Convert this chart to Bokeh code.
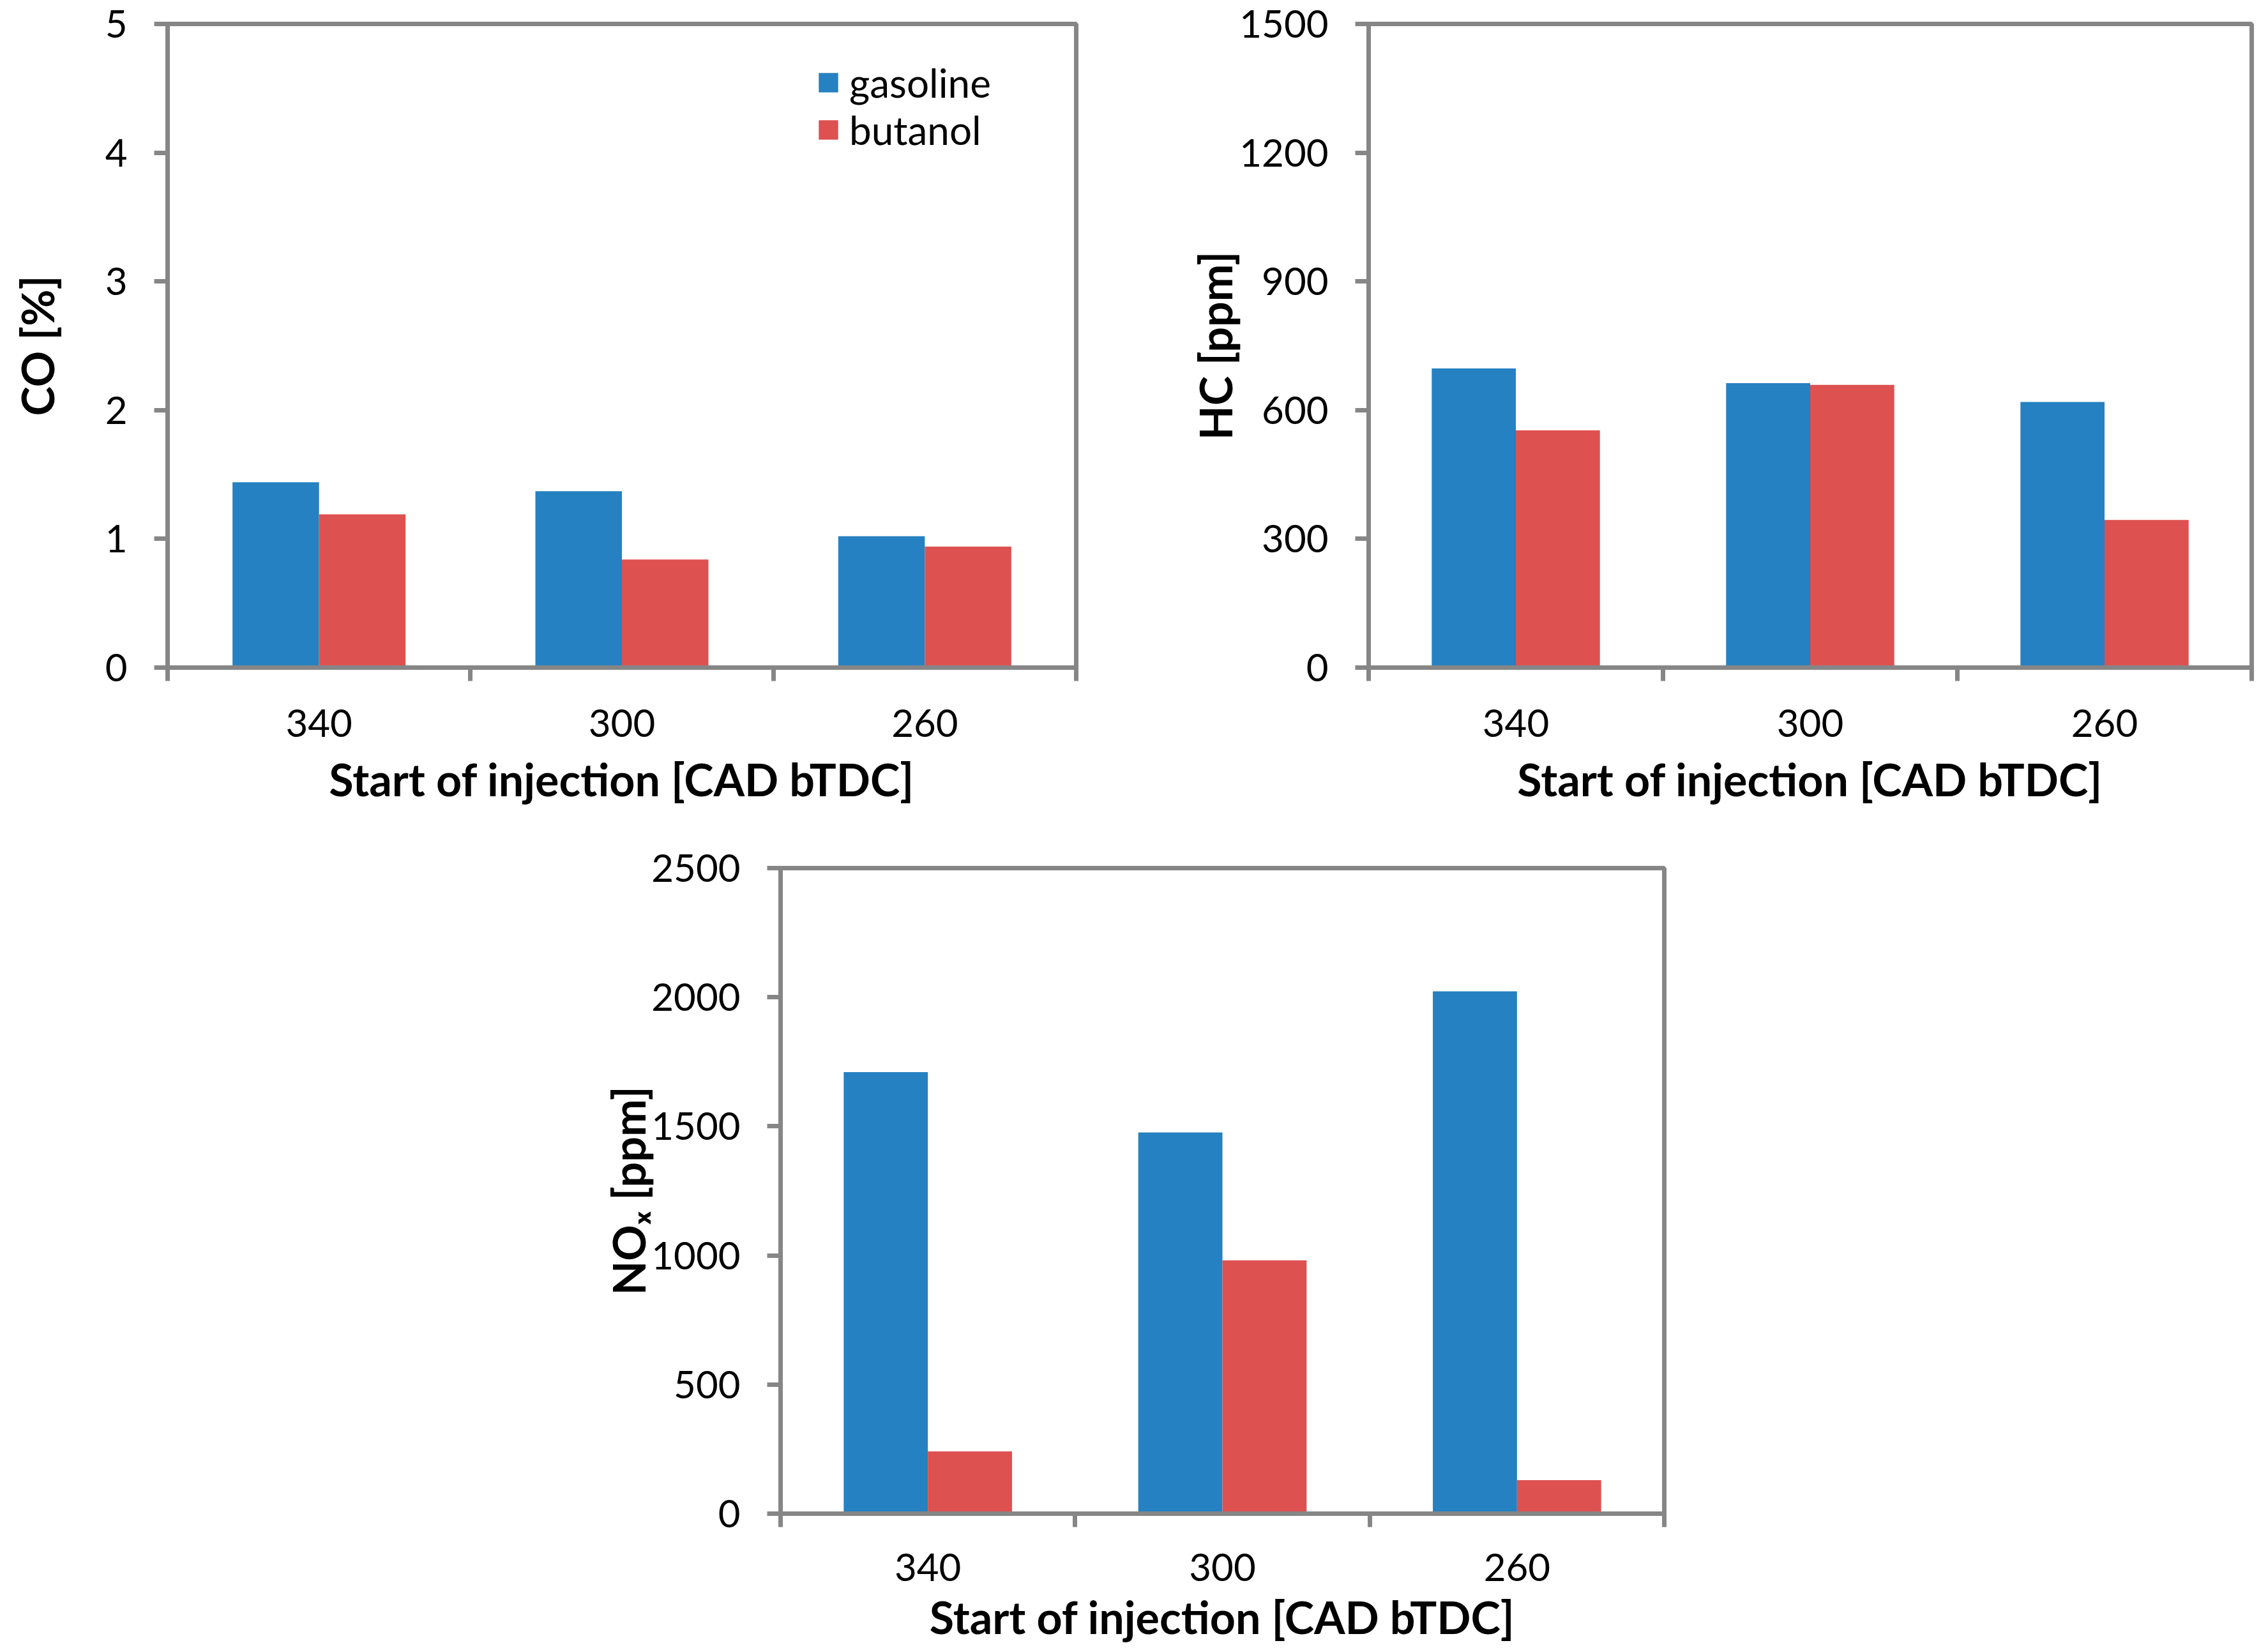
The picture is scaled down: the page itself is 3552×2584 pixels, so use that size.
from bokeh.plotting import figure
from bokeh.models import Range1d, FixedTicker, Legend, LegendItem, Spacer, ColumnDataSource
from bokeh.layouts import column, row
from bokeh.transform import dodge
from bokeh.embed import file_html
from bokeh.resources import INLINE

# ---------------- data ----------------
injection = ["340", "300", "260"]          # Start of injection [CAD bTDC]
fuels = ["gasoline", "butanol"]
co_gasoline = [1.44, 1.37, 1.02]           # CO [%]
co_butanol = [1.19, 0.84, 0.94]
hc_gasoline = [697, 663, 619]              # HC [ppm]
hc_butanol = [553, 659, 344]
nox_gasoline = [1710, 1476, 2023]          # NOx [ppm]
nox_butanol = [241, 981, 130]

BLUE = "#2581c1"
RED = "#de5151"
GRAY = "#868686"
FONT = "Lato"


def make_chart(gas, but, ymax, ystep, ylabel, width, height,
               mb_left, mb_right, mb_top, mb_bottom,
               ylabel_standoff, xlab_standoff, xtitle_standoff, legend=False):
    n = len(injection)
    centers = [i + 0.5 for i in range(n)]
    src = ColumnDataSource(dict(x=centers, gasoline=gas, butanol=but))
    p = figure(width=width, height=height,
               x_range=Range1d(0, n), y_range=Range1d(0, ymax),
               output_backend="svg", toolbar_location=None,
               min_border_left=mb_left, min_border_right=mb_right,
               min_border_top=mb_top, min_border_bottom=mb_bottom,
               background_fill_color="white", border_fill_color="white")
    bw = 1.0 / 3.5
    r1 = p.vbar(x=dodge("x", -bw / 2), top="gasoline", width=bw, source=src,
                fill_color=BLUE, line_color=None)
    r2 = p.vbar(x=dodge("x", bw / 2), top="butanol", width=bw, source=src,
                fill_color=RED, line_color=None)

    p.xgrid.visible = False
    p.ygrid.visible = False
    p.outline_line_color = GRAY
    p.outline_line_width = 7
    p.outline_line_alpha = 1.0

    # x axis: labels at category centres, tick marks at category boundaries
    xa = p.xaxis[0]
    xa.ticker = FixedTicker(ticks=centers, minor_ticks=list(range(n + 1)))
    xa.major_label_overrides = {c: lab for c, lab in zip(centers, injection)}
    xa.major_tick_line_color = None
    xa.major_tick_out = 0
    xa.major_tick_in = 0
    xa.minor_tick_out = 21
    xa.minor_tick_in = 0
    xa.minor_tick_line_color = GRAY
    xa.minor_tick_line_width = 7
    xa.axis_line_color = GRAY
    xa.axis_line_width = 7
    xa.major_label_text_font = FONT
    xa.major_label_text_font_size = "60px"
    xa.major_label_text_color = "black"
    xa.major_label_standoff = xlab_standoff
    xa.axis_label = "Start of injection [CAD bTDC]"
    xa.axis_label_text_font = FONT
    xa.axis_label_text_font_style = "bold"
    xa.axis_label_text_font_size = "70px"
    xa.axis_label_text_color = "black"
    xa.axis_label_standoff = xtitle_standoff

    ya = p.yaxis[0]
    ya.ticker = FixedTicker(ticks=list(range(0, ymax + 1, ystep)), minor_ticks=[])
    ya.major_tick_out = 21
    ya.major_tick_in = 0
    ya.major_tick_line_color = GRAY
    ya.major_tick_line_width = 7
    ya.minor_tick_line_color = None
    ya.axis_line_color = GRAY
    ya.axis_line_width = 7
    ya.major_label_text_font = FONT
    ya.major_label_text_font_size = "60px"
    ya.major_label_text_color = "black"
    ya.major_label_standoff = 42
    ya.axis_label = ylabel
    ya.axis_label_text_font = FONT
    ya.axis_label_text_font_style = "bold"
    ya.axis_label_text_font_size = "70px"
    ya.axis_label_text_color = "black"
    ya.axis_label_standoff = ylabel_standoff

    if legend:
        lg = Legend(items=[LegendItem(label=fuels[0], renderers=[r1]),
                           LegendItem(label=fuels[1], renderers=[r2])],
                    location=(1016, 805),
                    glyph_width=38, glyph_height=38,
                    label_text_font=FONT, label_text_font_size="62px",
                    label_text_color="black", label_standoff=14,
                    padding=0, margin=0, spacing=0,
                    border_line_color=None, background_fill_alpha=0)
        p.add_layout(lg)
    return p


p1 = make_chart(co_gasoline, co_butanol, 5, 1, "CO [%]",
                width=1838, height=1300, mb_left=262, mb_right=153, mb_top=37, mb_bottom=255,
                ylabel_standoff=62, xlab_standoff=44, xtitle_standoff=21, legend=True)
p2 = make_chart(hc_gasoline, hc_butanol, 1500, 300, "HC [ppm]",
                width=1698, height=1300, mb_left=305, mb_right=10, mb_top=37, mb_bottom=254,
                ylabel_standoff=-7, xlab_standoff=44, xtitle_standoff=21)
p3 = make_chart(nox_gasoline, nox_butanol, 2500, 500, "NO\u2093 [ppm]",
                width=1748, height=1282, mb_left=314, mb_right=50, mb_top=59, mb_bottom=212,
                ylabel_standoff=-9, xlab_standoff=41, xtitle_standoff=11)

layout = column(row(p1, p2), row(Spacer(width=908, height=10), p3))
open("out.html", "w").write(file_html(layout, INLINE))
